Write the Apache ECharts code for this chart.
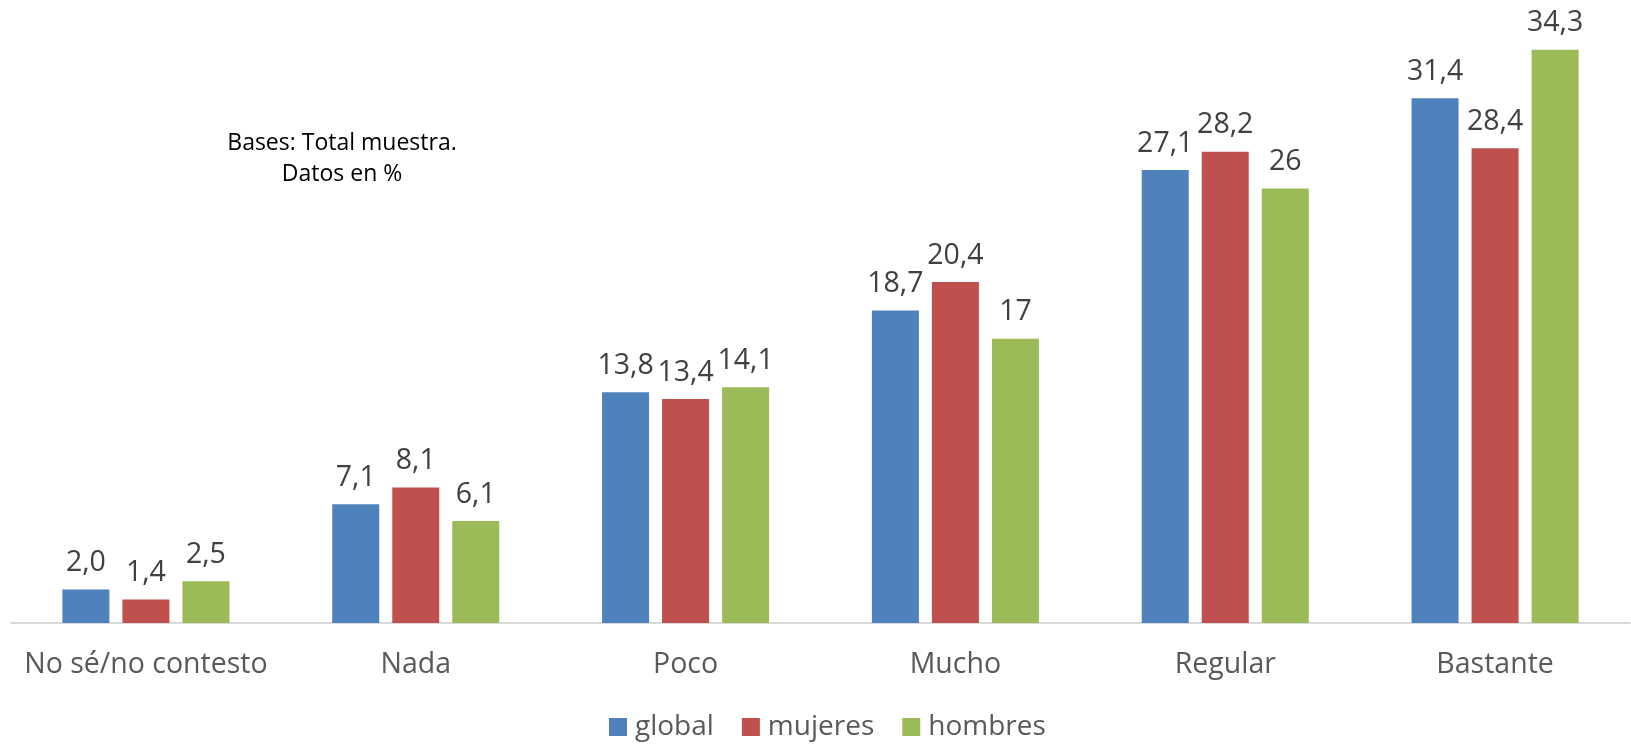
<!DOCTYPE html>
<html>
<head>
<meta charset="utf-8">
<script src="https://cdn.jsdelivr.net/npm/echarts@6/dist/echarts.min.js"></script>
<style>
  html, body { margin: 0; padding: 0; background: #fff; }
  #chart { width: 1631px; height: 744px; }
</style>
</head>
<body>
<div id="chart"></div>
<script>
const categories = ['No sé/no contesto', 'Nada', 'Poco', 'Mucho', 'Regular', 'Bastante'];
const globalValues = [2.0, 7.1, 13.8, 18.7, 27.1, 31.4];
const mujeresValues = [1.4, 8.1, 13.4, 20.4, 28.2, 28.4];
const hombresValues = [2.5, 6.1, 14.1, 17, 26, 34.3];
const seriesNames = ['global', 'mujeres', 'hombres'];
const seriesColors = ['#4F81BD', '#C0504D', '#9BBB59'];
const note = 'Bases: Total muestra.\nDatos en %';

const FONT = '"Open Sans", "Noto Sans", sans-serif';
const fixed1 = p => p.value.toFixed(1).replace('.', ',');
const plain = p => String(p.value).replace('.', ',');

function barSeries(name, data, color, fmt) {
  return {
    name: name,
    type: 'bar',
    data: data,
    barWidth: 47,
    barGap: '27.7%',
    itemStyle: { color: color },
    label: {
      show: true,
      position: 'top',
      distance: 12,
      formatter: fmt,
      fontFamily: FONT,
      fontSize: 28.5,
      color: '#404040'
    }
  };
}

const chart = echarts.init(document.getElementById('chart'), null, { renderer: 'canvas' });
chart.setOption({
  animation: false,
  backgroundColor: '#ffffff',
  grid: { left: 11, right: 1, top: 38, bottom: 121, containLabel: false },
  legend: {
    data: seriesNames,
    top: 708,
    left: 604,
    itemWidth: 18,
    itemHeight: 18,
    itemGap: 28,
    icon: 'rect',
    textStyle: { fontFamily: FONT, fontSize: 28, color: '#595959', padding: [0, 0, 0, 3] }
  },
  xAxis: {
    type: 'category',
    data: categories,
    axisTick: { show: false },
    axisLine: { lineStyle: { color: '#D9D9D9', width: 2 } },
    axisLabel: { fontFamily: FONT, fontSize: 28.5, color: '#595959', margin: 27, interval: 0 }
  },
  yAxis: {
    type: 'value',
    min: 0,
    max: 35,
    show: false,
    splitLine: { show: false }
  },
  graphic: [{
    type: 'text',
    x: 342,
    y: 128,
    style: {
      text: note,
      x: 0,
      y: 0,
      fontFamily: FONT,
      fontSize: 23,
      lineHeight: 31,
      fill: '#000000',
      align: 'center',
      textAlign: 'center',
      verticalAlign: 'top'
    }
  }],
  series: [
    barSeries(seriesNames[0], globalValues, seriesColors[0], fixed1),
    barSeries(seriesNames[1], mujeresValues, seriesColors[1], fixed1),
    barSeries(seriesNames[2], hombresValues, seriesColors[2], plain)
  ]
});
</script>
</body>
</html>
